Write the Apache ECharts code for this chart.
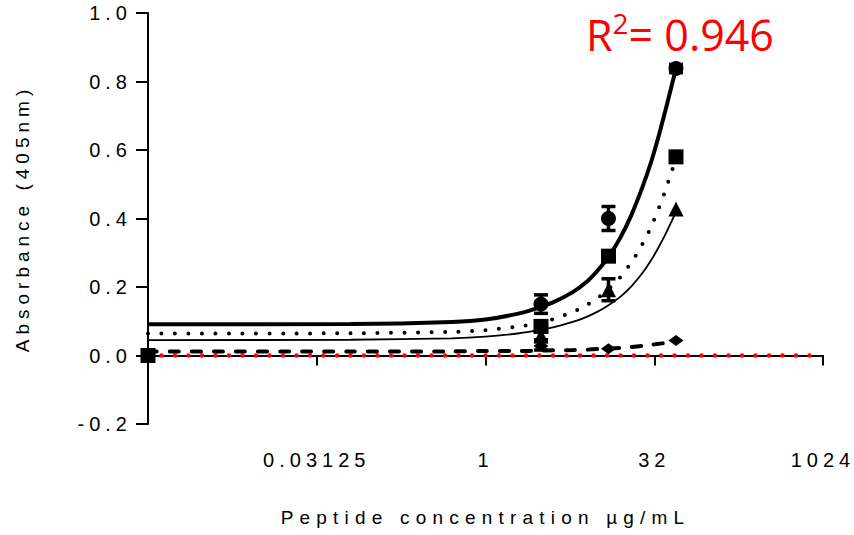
<!DOCTYPE html>
<html><head><meta charset="utf-8">
<script src="https://cdn.jsdelivr.net/npm/echarts@6/dist/echarts.min.js"></script>
<style>html,body{margin:0;padding:0;background:#fff}#main{width:854px;height:535px}</style>
</head><body><div id="main"></div>
<script>
// ---- axis ----
const xAxisMin = 0.0009765625;
const xAxisMax = 1024;
const xTickValues = [0.03125, 1, 32, 1024];
const xTickLabels = ['0.03125', '1', '32', '1024'];
const yMin = -0.2, yMax = 1.0, yStep = 0.2;
const xTitle = 'Peptide concentration µg/mL';
const yTitle = 'Absorbance (405nm)';

// ---- measured points ----
const concCircle = [3.125, 12.5, 50];
const absCircle = [0.150, 0.400, 0.838];
const errCircle = [0.027, 0.035, 0.012];

const concSquare = [0.0009765625, 3.125, 12.5, 50];
const absSquare = [0.0, 0.085, 0.290, 0.580];

const concTriangle = [3.125, 12.5, 50];
const absTriangle = [0.058, 0.192, 0.428];
const errTriangle = [0.012, 0.032, 0];

const concDiamond = [3.125, 12.5, 50];
const absDiamond = [0.028, 0.020, 0.044];
const errDiamond = [0.012, 0, 0];

// ---- fitted curves ----
const fitX = [0.0009765625, 0.0625, 0.5, 1, 2, 3, 4, 6, 8, 10, 12.5, 16, 20, 25, 30, 35, 40, 45, 50];
const fitCircle = [0.091, 0.092, 0.098, 0.105, 0.123, 0.140, 0.155, 0.185, 0.215, 0.248, 0.288, 0.345, 0.410, 0.490, 0.565, 0.640, 0.712, 0.778, 0.838];
const fitSquare = [0.064, 0.065, 0.069, 0.074, 0.085, 0.095, 0.106, 0.127, 0.147, 0.168, 0.194, 0.230, 0.272, 0.324, 0.376, 0.428, 0.480, 0.530, 0.575];
const fitTriangle = [0.045, 0.046, 0.050, 0.055, 0.065, 0.074, 0.082, 0.098, 0.113, 0.128, 0.147, 0.172, 0.202, 0.240, 0.278, 0.316, 0.352, 0.387, 0.420];
const fitDiamond = [0.012, 0.012, 0.012, 0.013, 0.013, 0.014, 0.015, 0.016, 0.017, 0.019, 0.020, 0.022, 0.025, 0.028, 0.031, 0.034, 0.037, 0.040, 0.044];

const zeroLineX = [xAxisMin, xAxisMax];
const zeroLineY = [0, 0];

const rText = ['R', '2', '= 0.946'];

const FONT = '"Liberation Sans", Arial, sans-serif';
const zip = (a, b) => a.map((v, i) => [v, b[i]]);

function errSeries(xs, ys, es) {
  const data = [];
  xs.forEach((x, i) => { if (es[i] > 0) data.push([x, ys[i], es[i]]); });
  return {
    type: 'custom', z: 4, clip: false, silent: true,
    renderItem: (params, api) => {
      const x = api.value(0), y = api.value(1), e = api.value(2);
      const t = api.coord([x, y + e]), b = api.coord([x, y - e]);
      const hw = 7;
      const st = { stroke: '#000', lineWidth: 3.5 };
      return { type: 'group', children: [
        { type: 'line', shape: { x1: t[0], y1: t[1], x2: b[0], y2: b[1] }, style: st },
        { type: 'line', shape: { x1: t[0] - hw, y1: t[1], x2: t[0] + hw, y2: t[1] }, style: st },
        { type: 'line', shape: { x1: b[0] - hw, y1: b[1], x2: b[0] + hw, y2: b[1] }, style: st }
      ]};
    },
    data: data
  };
}

function curve(ys, style) {
  return { type: 'line', data: zip(fitX, ys), symbol: 'none', smooth: 0.25, z: 2, silent: true,
    lineStyle: Object.assign({ color: '#000' }, style) };
}
function marks(xs, ys, symbol, size) {
  return { type: 'scatter', data: zip(xs, ys), symbol: symbol, symbolSize: size, z: 5, clip: false,
    itemStyle: { color: '#000', opacity: 1 }, silent: true };
}

const chart = echarts.init(document.getElementById('main'), null, { renderer: 'svg' });
chart.setOption({
  animation: false,
  backgroundColor: '#fff',
  grid: { left: 148, right: 31, top: 13, bottom: 111, containLabel: false, outerBoundsMode: 'none' },
  xAxis: {
    type: 'log', logBase: 2, min: xAxisMin, max: xAxisMax,
    name: xTitle, nameLocation: 'middle', nameGap: 84,
    nameTextStyle: { fontFamily: FONT, fontSize: 19, color: '#000' },
    axisLine: { lineStyle: { color: '#000', width: 2 } },
    axisTick: { show: true, length: 10, lineStyle: { color: '#000', width: 2 }, customValues: xTickValues },
    axisLabel: { fontFamily: FONT, fontSize: 20, color: '#000', margin: 26, customValues: xTickValues,
      formatter: v => { const i = xTickValues.findIndex(t => Math.abs(t - v) / t < 1e-6); return i >= 0 ? xTickLabels[i] : ''; } },
    splitLine: { show: false }, minorTick: { show: false }
  },
  yAxis: {
    type: 'value', min: yMin, max: yMax, interval: yStep,
    name: yTitle, nameLocation: 'middle', nameGap: 116, nameRotate: 90,
    nameTextStyle: { fontFamily: FONT, fontSize: 19, color: '#000' },
    axisLine: { show: true, lineStyle: { color: '#000', width: 2 } },
    axisTick: { show: true, length: 12, lineStyle: { color: '#000', width: 2 } },
    axisLabel: { fontFamily: FONT, fontSize: 20, color: '#000', margin: 16,
      formatter: v => (Math.abs(v) < 1e-9 ? 0 : v).toFixed(1) },
    splitLine: { show: false }
  },
  series: [
    { type: 'line', data: zip(zeroLineX, zeroLineY), symbol: 'none', z: 1, silent: true,
      lineStyle: { color: '#ff0000', width: 4.5, type: [0, 13.5], cap: 'round' } },
    curve(fitCircle, { width: 4 }),
    curve(fitSquare, { width: 4, type: [0, 13.5], cap: 'round' }),
    curve(fitTriangle, { width: 1.8 }),
    curve(fitDiamond, { width: 4, type: [9, 13], cap: 'round' }),
    errSeries(concCircle, absCircle, errCircle),
    errSeries(concTriangle, absTriangle, errTriangle),
    errSeries(concDiamond, absDiamond, errDiamond),
    marks(concCircle, absCircle, 'circle', 15),
    marks(concSquare, absSquare, 'rect', 15),
    marks(concTriangle, absTriangle, 'triangle', 15),
    marks(concDiamond, absDiamond, 'diamond', [15, 11])
  ],
  graphic: [{
    type: 'text', left: 586, top: 9, z: 10,
    style: {
      text: '{m|' + rText[0] + '}{s|' + rText[1] + '}{m|' + rText[2] + '}',
      rich: {
        m: { fontSize: 43, fontFamily: '"Open Sans", sans-serif', fill: '#ff0000', lineHeight: 50 },
        s: { fontSize: 28, fontFamily: '"Open Sans", sans-serif', fill: '#ff0000', verticalAlign: 'top', lineHeight: 30 }
      }
    }
  }]
});

function spaceText() {
  document.querySelectorAll('#main svg text').forEach(t => {
    const c = t.textContent;
    if (rText.indexOf(c) >= 0) return;
    let sp = '5px';
    if (c === xTitle) sp = '6.2px';
    t.style.letterSpacing = sp;
  });
}
spaceText();
chart.on('finished', spaceText);
</script>
</body></html>
